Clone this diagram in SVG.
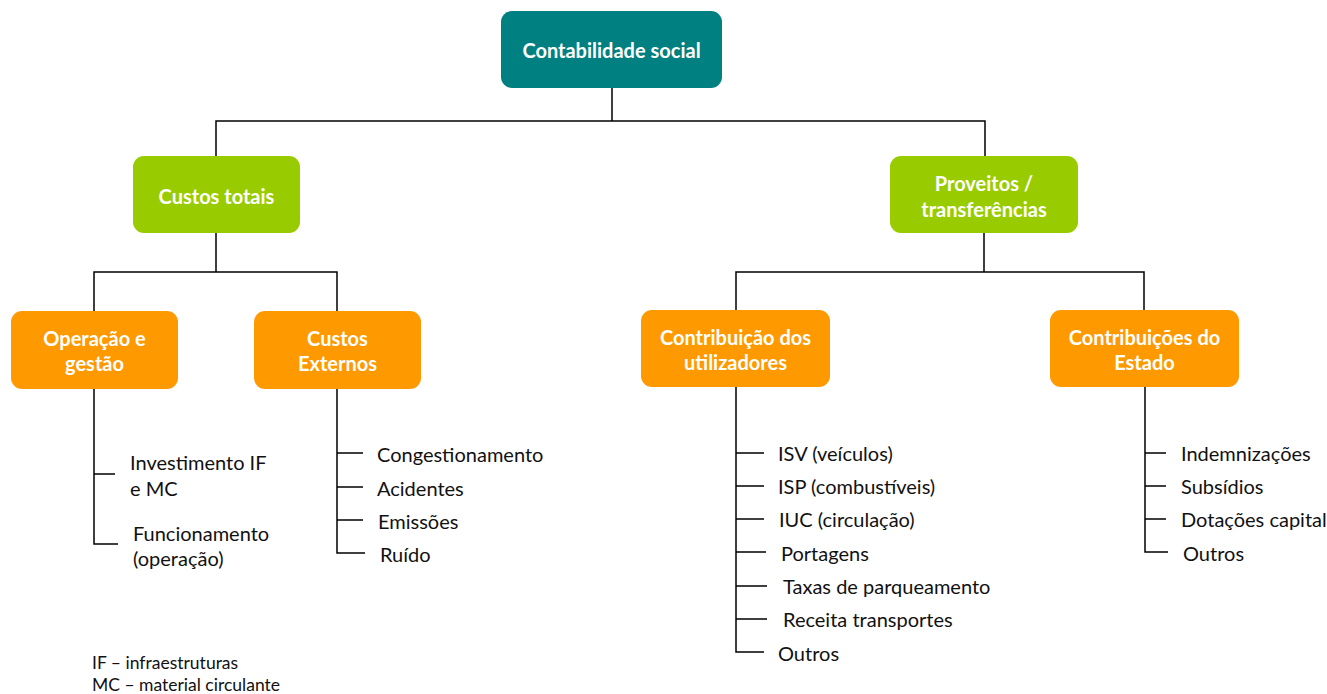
<svg xmlns="http://www.w3.org/2000/svg" width="1327" height="694" viewBox="0 0 1327 694">
<style>
.box-root{fill:#008080}
.box-l1{fill:#99CC00}
.box-l2{fill:#FF9900}
.lbl{font-family:Lato,"Liberation Sans",sans-serif;font-weight:bold;font-size:20px;fill:#ffffff;text-anchor:middle;dominant-baseline:central}
.item{font-family:Lato,"Liberation Sans",sans-serif;font-size:20px;fill:#111111;dominant-baseline:central}
.note{font-family:Lato,"Liberation Sans",sans-serif;font-size:17.5px;fill:#111111;dominant-baseline:central}
.conn{fill:none;stroke:#000000;stroke-width:1.5}
</style>
<rect width="1327" height="694" fill="#ffffff"/>
<g id="connectors">
<path class="conn" d="M612,88 V121 M216,156 V121 H985 V156"/>
<path class="conn" d="M216,233 V272 M94,311 V272 H337 V311"/>
<path class="conn" d="M984,233 V272 M736,310 V272 H1144 V310"/>
<path class="conn" d="M94,389 V544 H118 M94,474 H115"/>
<path class="conn" d="M337,389 V553 H365 M337,453 H363 M337,487 H363 M337,520 H363"/>
<path class="conn" d="M736,387 V652 H764 M736,453 H764 M736,486 H764 M736,519 H764 M736,552 H766 M736,586 H767 M736,619 H767"/>
<path class="conn" d="M1145,387 V552 H1168 M1145,453 H1166 M1145,486 H1166 M1145,519 H1166"/>
</g>
<g id="root">
<rect class="box-root" x="501" y="11" width="221" height="77" rx="11"/>
<text class="lbl" x="611.5" y="50">Contabilidade social</text>
</g>
<g id="custos-totais">
<rect class="box-l1" x="133" y="156" width="167" height="77" rx="11"/>
<text class="lbl" x="216.5" y="196">Custos totais</text>
</g>
<g id="proveitos">
<rect class="box-l1" x="890" y="156" width="188" height="77" rx="11"/>
<text class="lbl" x="984" y="183">Proveitos /</text>
<text class="lbl" x="984" y="209">transferências</text>
</g>
<g id="operacao">
<rect class="box-l2" x="11" y="311" width="167" height="78" rx="11"/>
<text class="lbl" x="94.5" y="338">Operação e</text>
<text class="lbl" x="94.5" y="363">gestão</text>
</g>
<g id="custos-externos">
<rect class="box-l2" x="254" y="311" width="167" height="78" rx="11"/>
<text class="lbl" x="337.5" y="338">Custos</text>
<text class="lbl" x="337.5" y="363">Externos</text>
</g>
<g id="contribuicao-utilizadores">
<rect class="box-l2" x="641" y="310" width="189" height="77" rx="11"/>
<text class="lbl" x="735.5" y="337">Contribuição dos</text>
<text class="lbl" x="735.5" y="362">utilizadores</text>
</g>
<g id="contribuicoes-estado">
<rect class="box-l2" x="1050" y="310" width="189" height="77" rx="11"/>
<text class="lbl" x="1144.5" y="337">Contribuições do</text>
<text class="lbl" x="1144.5" y="362">Estado</text>
</g>
<g id="items-operacao">
<text class="item" x="130" y="462">Investimento IF</text>
<text class="item" x="130" y="488">e MC</text>
<text class="item" x="133" y="533">Funcionamento</text>
<text class="item" x="133" y="558">(operação)</text>
</g>
<g id="items-externos">
<text class="item" x="377" y="454">Congestionamento</text>
<text class="item" x="377" y="488">Acidentes</text>
<text class="item" x="378" y="521">Emissões</text>
<text class="item" x="380" y="554">Ruído</text>
</g>
<g id="items-utilizadores">
<text class="item" x="778" y="453">ISV (veículos)</text>
<text class="item" x="778" y="486">ISP (combustíveis)</text>
<text class="item" x="779" y="519">IUC (circulação)</text>
<text class="item" x="781" y="553">Portagens</text>
<text class="item" x="783" y="586">Taxas de parqueamento</text>
<text class="item" x="783" y="619">Receita transportes</text>
<text class="item" x="778" y="653">Outros</text>
</g>
<g id="items-estado">
<text class="item" x="1181" y="453">Indemnizações</text>
<text class="item" x="1181" y="486">Subsídios</text>
<text class="item" x="1181" y="519">Dotações capital</text>
<text class="item" x="1183" y="553">Outros</text>
</g>
<g id="legend">
<text class="note" x="92" y="662">IF – infraestruturas</text>
<text class="note" x="92" y="684">MC – material circulante</text>
</g>
</svg>
